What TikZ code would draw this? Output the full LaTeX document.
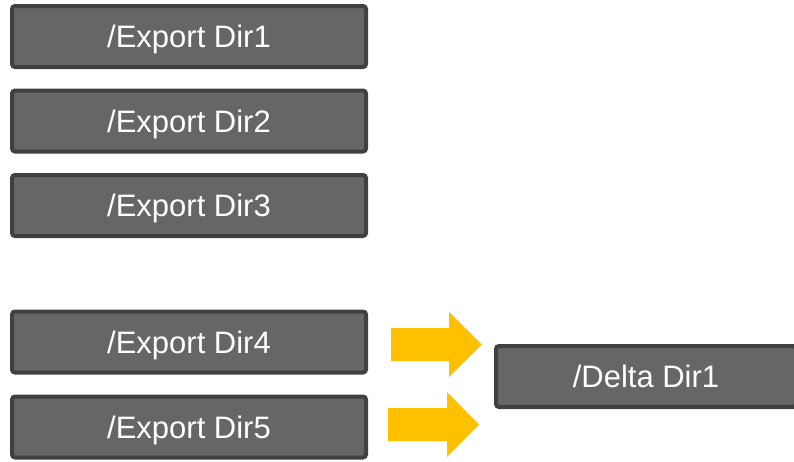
\documentclass[tikz,border=0pt]{standalone}
\usepackage{fontspec}
\setmainfont{Liberation Sans}
\definecolor{boxfill}{HTML}{666666}
\definecolor{boxline}{HTML}{404040}
\definecolor{arrowcol}{HTML}{FFC000}
\begin{document}
\begin{tikzpicture}[x=1pt,y=-1pt,
  dirbox/.style={draw=boxline, fill=boxfill, line width=4pt, rounded corners=3pt,
    minimum width=354pt, minimum height=61pt, inner sep=0pt, outer sep=0pt,
    text depth=0pt, text=white, font=\fontsize{31}{36}\selectfont},
  bigarrow/.style={fill=arrowcol, draw=none}]
\useasboundingbox (0,0) rectangle (794,461);
\clip (0,0) rectangle (794,461);
\node[dirbox] (e1) at (189,36.5) {/Export Dir1};
\node[dirbox] (e2) at (189,121) {/Export Dir2};
\node[dirbox] (e3) at (189,205.5) {/Export Dir3};
\node[dirbox] (e4) at (189,342) {/Export Dir4};
\node[dirbox] (e5) at (189,427) {/Export Dir5};
\node[dirbox, minimum width=300pt] (d1) at (646,376.5) {/Delta Dir1};
\fill[bigarrow] (391,328) -- (449,328) -- (449,312) -- (482,344.5) -- (449,377) -- (449,361) -- (391,361) -- cycle;
\fill[bigarrow] (388,408) -- (447,408) -- (447,392) -- (479,424.5) -- (447,457) -- (447,441) -- (388,441) -- cycle;
\end{tikzpicture}
\end{document}
